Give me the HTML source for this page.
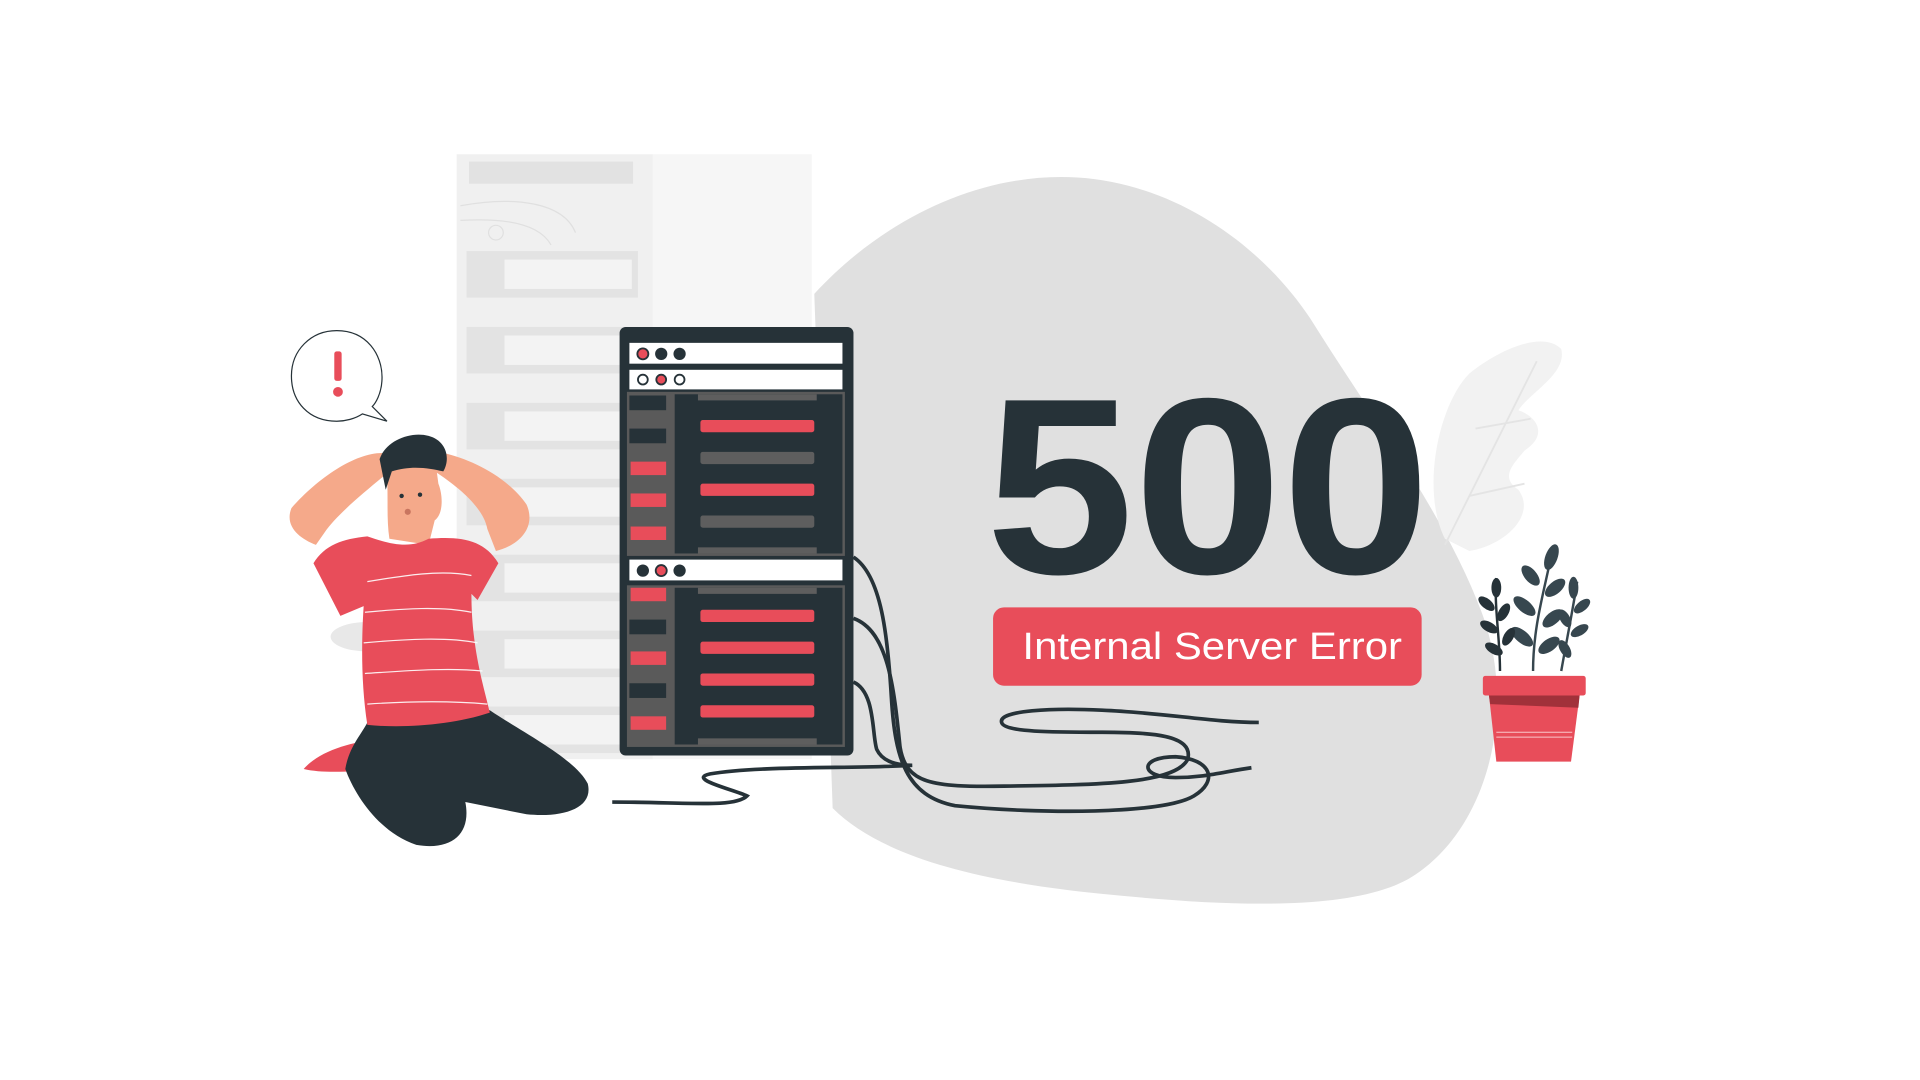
<!DOCTYPE html>
<html><head><meta charset="utf-8"><style>
html,body{margin:0;padding:0;background:#fff;width:1920px;height:1080px;overflow:hidden}
svg{display:block}
</style></head><body>
<svg width="1920" height="1080" viewBox="0 0 1568 882" xmlns="http://www.w3.org/2000/svg">
<!-- blob -->
<path d="M665,240 C720,180 800,140 880,145 C960,150 1030,200 1070,260 C1120,340 1180,420 1210,500 C1240,580 1215,680 1150,718 C1100,745 1000,740 900,730 C800,720 720,700 680,660 Z" fill="#e0e0e0"/>
<!-- ghost leaf -->
<path d="M1180,440 C1160,400 1175,330 1200,305 C1225,285 1260,270 1275,285 C1280,305 1250,320 1240,335 C1255,340 1265,355 1245,368 C1235,380 1225,390 1240,400 C1255,420 1230,445 1200,450 Z" fill="#f2f2f2"/>
<path d="M1180,445 L1255,295 M1200,405 L1245,395 M1205,350 L1250,342" stroke="#e4e4e4" stroke-width="1.5" fill="none"/>
<!-- ghost rack -->
<rect x="373" y="126" width="290" height="494" fill="#f6f6f6"/>
<rect x="373" y="126" width="160" height="494" fill="#f0f0f0"/>
<rect x="383" y="132" width="134" height="18" fill="#e2e2e2"/>
<path d="M376,168 C420,160 460,165 470,190 M376,180 C410,178 440,182 450,200" stroke="#e0e0e0" fill="none"/>
<circle cx="405" cy="190" r="6" fill="none" stroke="#e0e0e0"/>
<g fill="#e3e3e3">
<rect x="381" y="205" width="140" height="38"/><rect x="381" y="267" width="140" height="38"/><rect x="381" y="329" width="140" height="38"/><rect x="381" y="391" width="140" height="38"/><rect x="381" y="453" width="140" height="38"/><rect x="381" y="515" width="140" height="38"/><rect x="381" y="577" width="140" height="38"/>
</g>
<g fill="#f3f3f3">
<rect x="412" y="212" width="104" height="24"/><rect x="412" y="274" width="104" height="24"/><rect x="412" y="336" width="104" height="24"/><rect x="412" y="398" width="104" height="24"/><rect x="412" y="460" width="104" height="24"/><rect x="412" y="522" width="104" height="24"/><rect x="412" y="584" width="104" height="24"/>
</g>
<!-- server -->
<rect x="506" y="267" width="191" height="350" rx="5" fill="#263238"/>
<rect x="514" y="280" width="174" height="17" fill="#fff"/>
<rect x="514" y="302" width="174" height="16" fill="#fff"/>
<rect x="514" y="457" width="174" height="17" fill="#fff"/>
<circle cx="525" cy="289" r="4.5" fill="#e84d5a" stroke="#263238" stroke-width="1.5"/><circle cx="540" cy="289" r="5" fill="#263238"/><circle cx="555" cy="289" r="5" fill="#263238"/>
<circle cx="525" cy="310" r="4" fill="#fff" stroke="#263238" stroke-width="1.5"/><circle cx="540" cy="310" r="4" fill="#e84d5a" stroke="#263238" stroke-width="1.5"/><circle cx="555" cy="310" r="4" fill="#fff" stroke="#263238" stroke-width="1.5"/>
<circle cx="525" cy="466" r="5" fill="#263238"/><circle cx="540" cy="466" r="4.5" fill="#e84d5a" stroke="#263238" stroke-width="1.5"/><circle cx="555" cy="466" r="5" fill="#263238"/>
<rect x="512" y="320" width="178" height="134" fill="#5a5a5a"/>
<rect x="512" y="478" width="178" height="132" fill="#5a5a5a"/>
<rect x="551" y="322" width="137" height="130" fill="#263238"/>
<rect x="551" y="480" width="137" height="128" fill="#263238"/>
<g fill="#263238"><rect x="514" y="323" width="30" height="12"/><rect x="514" y="350" width="30" height="12"/><rect x="514" y="506" width="30" height="12"/><rect x="514" y="558" width="30" height="12"/></g>
<g fill="#e84d5a"><rect x="515" y="377" width="29" height="11"/><rect x="515" y="403" width="29" height="11"/><rect x="515" y="430" width="29" height="11"/><rect x="515" y="480" width="29" height="11"/><rect x="515" y="532" width="29" height="11"/><rect x="515" y="585" width="29" height="11"/></g>
<g fill="#e84d5a"><rect x="572" y="343" width="93" height="10" rx="2"/><rect x="572" y="395" width="93" height="10" rx="2"/><rect x="572" y="498" width="93" height="10" rx="2"/><rect x="572" y="524" width="93" height="10" rx="2"/><rect x="572" y="550" width="93" height="10" rx="2"/><rect x="572" y="576" width="93" height="10" rx="2"/></g>
<g fill="#5e5e5e"><rect x="572" y="369" width="93" height="10" rx="2"/><rect x="572" y="421" width="93" height="10" rx="2"/><rect x="570" y="322" width="97" height="5"/><rect x="570" y="447" width="97" height="5"/><rect x="570" y="480" width="97" height="5"/><rect x="570" y="603" width="97" height="5"/></g>
<!-- cables -->
<g fill="none" stroke="#263238" stroke-width="3">
<path d="M697,455 C720,470 725,520 728,570 C731,620 740,650 780,658 C850,665 950,665 975,650 C995,638 990,620 960,618 C930,618 930,635 960,635 C985,635 1000,630 1022,627"/>
<path d="M697,505 C725,515 730,560 735,610 C740,640 760,643 820,642 C900,641 960,640 970,620 C975,600 940,598 900,598 C860,598 820,598 818,590 C815,580 860,578 900,580 C950,582 990,590 1028,590"/>
<path d="M697,557 C715,565 712,600 716,612 C722,625 740,625 745,625 C700,628 620,625 580,632 C560,636 600,645 610,650 C600,660 560,655 500,655"/>
</g>
<!-- 500 -->
<text x="805" y="468" font-family="Liberation Sans, sans-serif" font-weight="bold" font-size="205" fill="#263238" textLength="363" lengthAdjust="spacingAndGlyphs">500</text>
<rect x="811" y="496" width="350" height="64" rx="9" fill="#e84d5a"/>
<text x="835" y="538" font-family="Liberation Sans, sans-serif" font-size="31" fill="#fff" textLength="310" lengthAdjust="spacingAndGlyphs">Internal Server Error</text>
<!-- plant -->
<g fill="#37474f">
<path d="M1252,548 C1252,510 1262,480 1268,448" stroke="#37474f" stroke-width="2" fill="none"/>
<path d="M1225,548 C1225,520 1220,495 1222,472" stroke="#263238" stroke-width="2" fill="none"/>
<path d="M1275,548 C1280,520 1285,495 1288,475" stroke="#37474f" stroke-width="2" fill="none"/>
<ellipse cx="1267" cy="455" rx="5" ry="11" transform="rotate(20 1267 455)"/>
<ellipse cx="1250" cy="470" rx="5" ry="10" transform="rotate(-40 1250 470)"/>
<ellipse cx="1270" cy="480" rx="5" ry="10" transform="rotate(50 1270 480)"/>
<ellipse cx="1245" cy="495" rx="5" ry="11" transform="rotate(-50 1245 495)"/>
<ellipse cx="1268" cy="505" rx="5" ry="10" transform="rotate(50 1268 505)"/>
<ellipse cx="1243" cy="520" rx="5" ry="11" transform="rotate(-50 1243 520)"/>
<ellipse cx="1265" cy="527" rx="5" ry="10" transform="rotate(55 1265 527)"/>
<ellipse cx="1285" cy="480" rx="4" ry="9"/>
<ellipse cx="1292" cy="495" rx="4" ry="8" transform="rotate(50 1292 495)"/>
<ellipse cx="1278" cy="505" rx="4" ry="8" transform="rotate(-30 1278 505)"/>
<ellipse cx="1290" cy="515" rx="4" ry="8" transform="rotate(60 1290 515)"/>
<ellipse cx="1278" cy="530" rx="4" ry="8" transform="rotate(-30 1278 530)"/>
</g>
<g fill="#263238">
<ellipse cx="1222" cy="480" rx="4" ry="8"/>
<ellipse cx="1214" cy="493" rx="4" ry="8" transform="rotate(-50 1214 493)"/>
<ellipse cx="1228" cy="500" rx="4" ry="8" transform="rotate(30 1228 500)"/>
<ellipse cx="1216" cy="512" rx="4" ry="8" transform="rotate(-60 1216 512)"/>
<ellipse cx="1232" cy="520" rx="4" ry="8" transform="rotate(30 1232 520)"/>
<ellipse cx="1220" cy="530" rx="4" ry="8" transform="rotate(-60 1220 530)"/>
</g>
<rect x="1211" y="552" width="84" height="16" rx="2" fill="#e84d5a"/>
<path d="M1216,568 L1290,568 L1283,622 L1222,622 Z" fill="#e84d5a"/>
<path d="M1216,568 L1290,568 L1289,578 L1217,575 Z" fill="#a1313a"/>
<path d="M1222,598 L1284,598 M1222,602 L1284,602" stroke="#f9c6ca" stroke-width="0.8"/>
<!-- speech bubble -->
<path d="M275,270 C300,270 312,290 312,308 C312,322 306,330 304,332 L316,344 L296,338 C290,342 282,344 275,344 C252,344 238,328 238,307 C238,286 254,270 275,270 Z" fill="#fff" stroke="#263238" stroke-width="1"/>
<rect x="273" y="287" width="6" height="24" rx="2" fill="#e84d5a"/>
<circle cx="276" cy="320" r="4" fill="#e84d5a"/>
<!-- person -->
<ellipse cx="300" cy="520" rx="30" ry="12" fill="#e8e8e8"/>
<path d="M248,628 C262,612 290,605 320,602 L310,628 C290,630 265,632 248,628 Z" fill="#e84d5a"/>
<path d="M300,590 L400,580 C430,600 470,620 480,640 C485,660 460,668 430,665 L380,655 C385,680 370,695 340,690 C310,680 290,650 282,628 C285,610 295,600 300,590 Z" fill="#263238"/>
<path d="M258,445 C245,440 232,430 238,415 C260,390 290,370 312,370 L318,385 C300,400 275,420 265,435 Z" fill="#f5a98a"/>
<path d="M405,450 C425,445 438,430 430,412 C415,390 385,375 362,370 L355,385 C375,398 395,415 398,432 Z" fill="#f5a98a"/>
<path d="M315,380 C318,400 315,420 318,440 L350,445 L355,425 C362,420 362,405 358,395 L356,380 C340,372 325,372 315,380 Z" fill="#f5a98a"/>
<path d="M310,375 C315,360 335,352 350,356 C365,360 368,375 362,385 C350,382 335,380 320,385 L315,400 Z" fill="#263238"/>
<circle cx="328" cy="405" r="1.8" fill="#263238"/><circle cx="343" cy="404" r="1.8" fill="#263238"/>
<circle cx="333" cy="418" r="2.5" fill="#c9755f"/>
<path d="M256,460 C265,445 280,440 300,438 C320,445 335,448 350,440 C375,438 395,440 407,460 L390,490 L385,485 C385,530 395,560 400,582 C370,592 330,595 300,592 C295,560 295,525 297,495 L278,503 Z" fill="#e84d5a"/>
<g stroke="#fff" stroke-width="1" fill="none" opacity="0.9">
<path d="M300,475 C330,470 360,465 385,470"/><path d="M298,500 C330,497 360,495 385,500"/><path d="M297,525 C330,522 365,520 390,525"/><path d="M298,550 C330,548 365,545 394,548"/><path d="M300,575 C330,573 365,572 398,575"/>
</g>
</svg>
</body></html>
